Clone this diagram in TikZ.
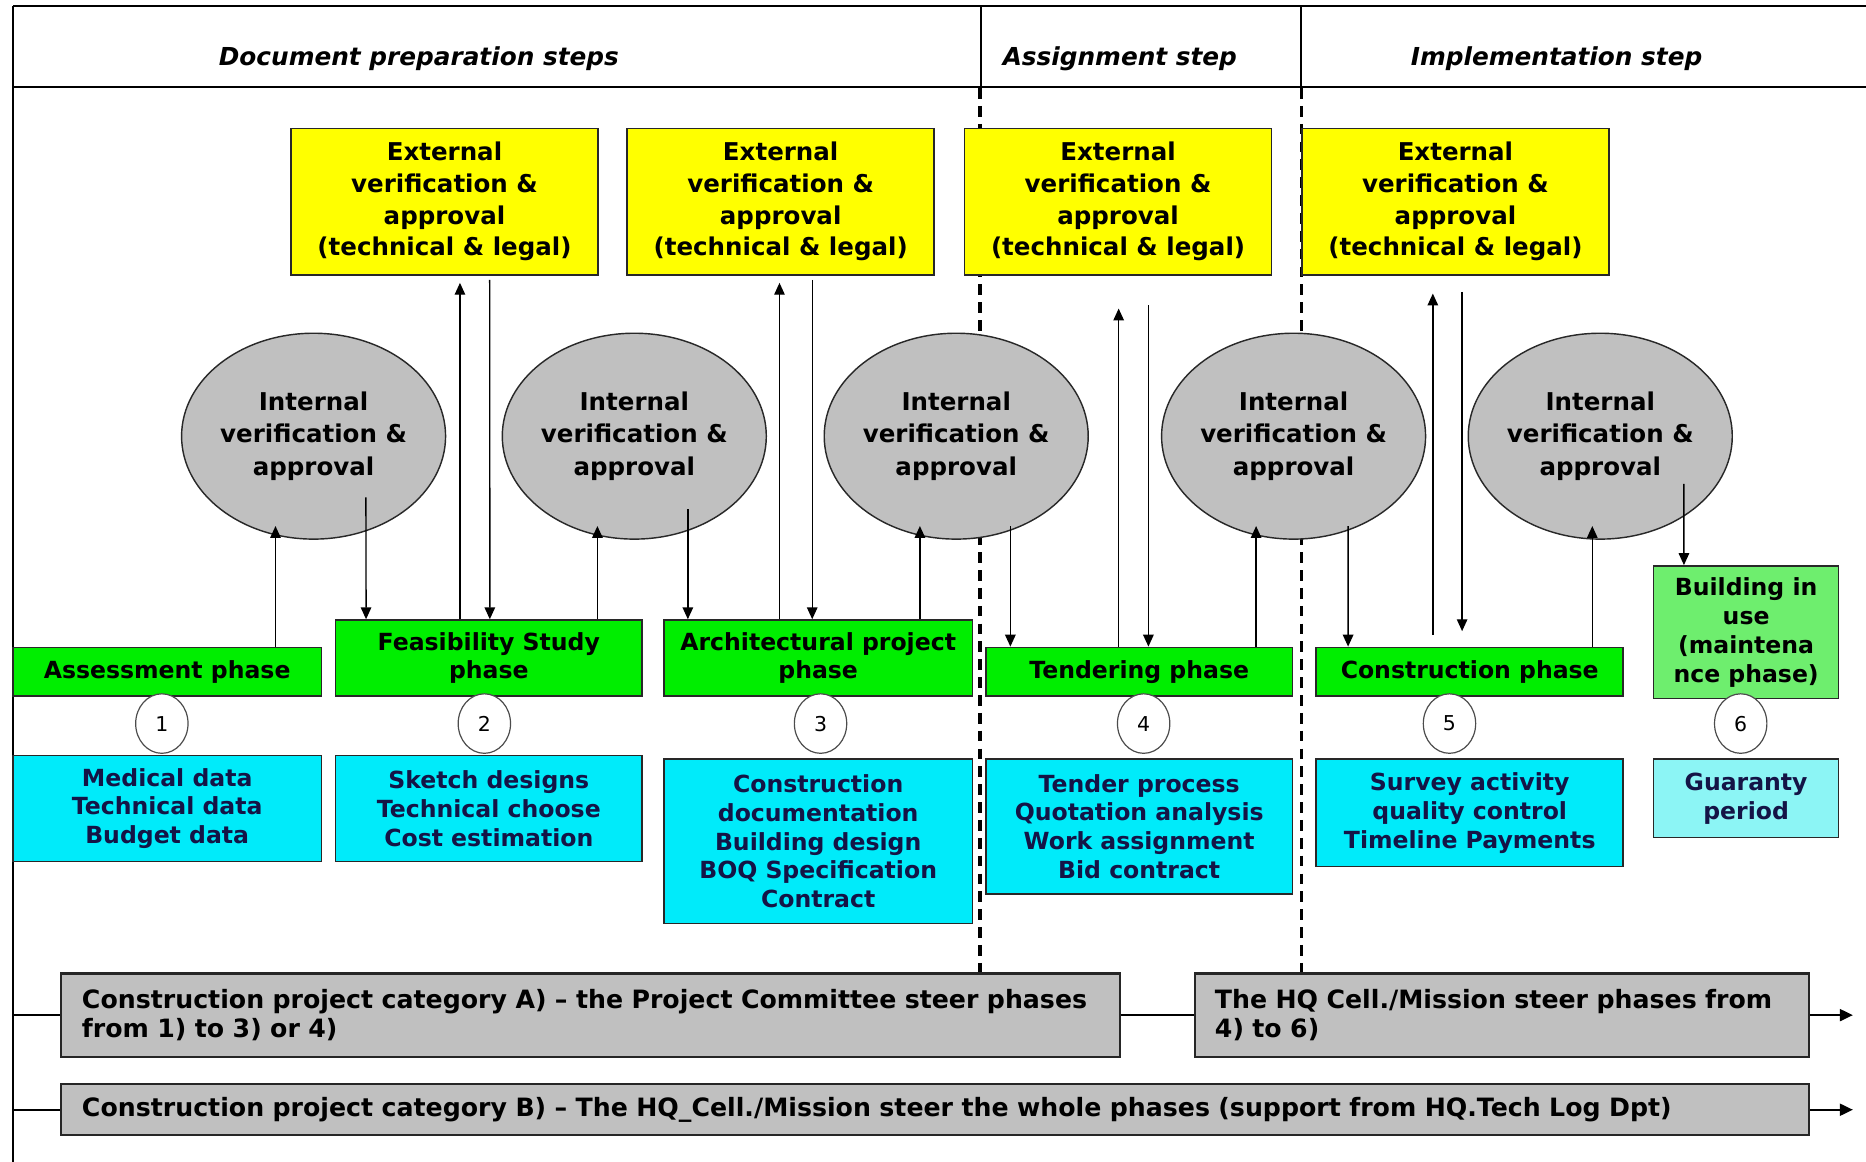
\documentclass[tikz,border=0pt]{standalone}
\usepackage{fontspec}
\setmainfont{DejaVu Sans}
\usetikzlibrary{arrows.meta,shapes.geometric,calc}
\definecolor{ybox}{RGB}{255,255,0}
\definecolor{gbox}{RGB}{0,238,0}
\definecolor{lgbox}{RGB}{110,238,110}
\definecolor{cbox}{RGB}{0,235,250}
\definecolor{lcbox}{RGB}{140,245,245}
\definecolor{gfill}{RGB}{192,192,192}
\definecolor{navytxt}{RGB}{20,20,70}
\definecolor{edge}{RGB}{40,40,40}
\begin{document}
\begin{tikzpicture}[x=0.5pt,y=-0.5pt,
  yelbox/.style={draw=edge,fill=ybox,line width=0.65pt,inner sep=0pt,minimum width=129pt,minimum height=61.5pt,align=center,font=\bfseries\fontsize{10.3}{13.3}\selectfont},
  intell/.style={ellipse,draw=edge,fill=gfill,line width=0.6pt,inner sep=0pt,minimum width=110pt,minimum height=86.5pt,align=center,font=\bfseries\fontsize{10.3}{13.5}\selectfont},
  phasebox/.style={draw=edge,fill=gbox,line width=0.65pt,inner sep=0pt,align=center,font=\bfseries\fontsize{9.9}{12}\selectfont},
  databox/.style={draw=edge,fill=cbox,line width=0.65pt,inner sep=0pt,align=center,text=navytxt,font=\bfseries\fontsize{9.9}{12.1}\selectfont},
  numell/.style={ellipse,draw=black!70,fill=white,line width=0.5pt,inner sep=0pt,minimum width=22pt,minimum height=25pt,font=\fontsize{8.6}{10}\selectfont},
  steerbox/.style={draw=black!85,fill=gfill,line width=0.9pt,inner xsep=9pt,inner ysep=0pt,align=left,anchor=west,font=\bfseries\fontsize{10.6}{12.5}\selectfont},
  headtxt/.style={font=\bfseries\itshape\fontsize{10.4}{12}\selectfont},
  arr/.style={line width=0.6pt,-{Triangle[length=5pt,width=4.4pt]}},
  flow/.style={line width=1pt,-{Triangle[length=5.5pt,width=5pt]}},
  sepline/.style={line width=1.5pt,dash pattern=on 4.5pt off 3pt},
  frameline/.style={line width=0.9pt}
]
\fill[white] (0,0) rectangle (1568,976);
\useasboundingbox (0,0) rectangle (1568,976);

% frame and header
\draw[frameline] (11,5) -- (1568,5);
\draw[frameline] (11,73) -- (1568,73);
\draw[frameline] (11,5) -- (11,976);
\draw[frameline] (824,5) -- (824,73);
\draw[frameline] (1093,5) -- (1093,73);
\node[headtxt] (h1) at (352,49) {Document preparation steps};
\node[headtxt] (h2) at (941,49) {Assignment step};
\node[headtxt] (h3) at (1308,49) {Implementation step};

% dashed separators
\draw[sepline] (823.5,74) -- (823.5,818);
\draw[sepline] (1093.5,74) -- (1093.5,818);

% external verification
\node[yelbox] (yel1) at (373.5,169.5) {External\\verification \&\\approval\\(technical \& legal)};
\node[yelbox] (yel2) at (656,169.5) {External\\verification \&\\approval\\(technical \& legal)};
\node[yelbox] (yel3) at (939.5,169.5) {External\\verification \&\\approval\\(technical \& legal)};
\node[yelbox] (yel4) at (1223,169.5) {External\\verification \&\\approval\\(technical \& legal)};

% internal verification
\node[intell] (int1) at (263.5,366.5) {Internal\\verification \&\\approval};
\node[intell] (int2) at (533,366.5) {Internal\\verification \&\\approval};
\node[intell] (int3) at (803.5,366.5) {Internal\\verification \&\\approval};
\node[intell] (int4) at (1087,366.5) {Internal\\verification \&\\approval};
\node[intell] (int5) at (1344.7,366.5) {Internal\\verification \&\\approval};

% phases
\node[phasebox,minimum width=129.5pt,minimum height=20.5pt] (assess) at (140.5,564.5) {Assessment phase};
\node[phasebox,minimum width=128.75pt,minimum height=32pt] (feas) at (410.75,553) {Feasibility Study\\phase};
\node[phasebox,minimum width=129.5pt,minimum height=32pt] (arch) at (687.5,553) {Architectural project\\phase};
\node[phasebox,minimum width=128.75pt,minimum height=20.5pt] (tend) at (957.25,564.5) {Tendering phase};
\node[phasebox,minimum width=129pt,minimum height=20.5pt] (cons) at (1235,564.5) {Construction phase};
\node[phasebox,fill=lgbox,minimum width=77.75pt,minimum height=55.75pt,font=\bfseries\fontsize{9.9}{12.2}\selectfont] (build) at (1467.25,531.25) {Building in\\use\\(maintena\\nce phase)};

% data boxes
\node[databox,minimum width=129.5pt,minimum height=44.65pt] (dat1) at (140.5,679.35) {Medical data\\Technical data\\Budget data};
\node[databox,minimum width=128.75pt,minimum height=44.65pt] (dat2) at (410.75,679.35) {Sketch designs\\Technical choose\\Cost estimation};
\node[databox,minimum width=129.5pt,minimum height=69pt] (dat3) at (687.5,707) {Construction\\documentation\\Building design\\BOQ Specification\\Contract};
\node[databox,minimum width=128.75pt,minimum height=56.5pt] (dat4) at (957.25,694.5) {Tender process\\Quotation analysis\\Work assignment\\Bid contract};
\node[databox,minimum width=129pt,minimum height=45pt] (dat5) at (1235,683) {Survey activity\\quality control\\Timeline Payments};
\node[databox,fill=lcbox,minimum width=77.75pt,minimum height=32.85pt] (dat6) at (1467.25,670.85) {Guaranty\\period};

% numbers
\node[numell] (n1) at (136,608) {1};
\node[numell] (n2) at (407,608) {2};
\node[numell] (n3) at (689.5,608) {3};
\node[numell] (n4) at (961,608) {4};
\node[numell] (n5) at (1218,608) {5};
\node[numell] (n6) at (1462.7,608) {6};

% steering boxes
\node[steerbox,text width=427pt,minimum height=35pt] (catA) at (50,853) {\mbox{Construction project category A) – the Project Committee steer phases}\\from 1) to 3) or 4)};
\node[steerbox,text width=241pt,inner xsep=8.5pt,minimum height=35pt] (hq) at (1003,853) {\mbox{The HQ Cell./Mission steer phases from}\\4) to 6)};
\node[steerbox,text width=716.5pt,minimum height=21.5pt] (catB) at (50,932.5) {\mbox{Construction project category B) – The HQ\_Cell./Mission steer the whole phases (support from HQ.Tech Log Dpt)}};

\coordinate (la) at (11,853);
\coordinate (ra) at (1557,853);
\coordinate (lb) at (11,932.5);
\coordinate (rb) at (1557,932.5);
\draw[line width=1pt] (la) -- (catA.west);
\draw[line width=1pt] (catA.east) -- (hq.west);
\draw[flow] (hq.east) -- (ra);
\draw[line width=1pt] (lb) -- (catB.west);
\draw[flow] (catB.east) -- (rb);

% arrows
\draw[arr] ($(assess.north)+(91,0)$) -- ($(int1.center)+(-32,75.5)$);
\draw[arr] ($(int1.center)+(44,51.5)$) -- ($(feas.north)+(-103.15,0)$);
\draw[arr] ($(feas.north)+(-24.25,0)$) -- ($(yel1.south)+(13,6)$);
\draw[arr] ($(yel1.south)+(38,3.6)$) -- ($(feas.north)+(0.85,0)$);
\draw[arr] ($(feas.north)+(91.25,0)$) -- ($(int2.center)+(-31,75.5)$);
\draw[arr] ($(int2.center)+(45,61.5)$) -- ($(arch.north)+(-109.5,0)$);
\draw[arr] ($(arch.north)+(-32.5,0)$) -- ($(yel2.south)+(-1,6)$);
\draw[arr] ($(yel2.south)+(26.5,3.6)$) -- ($(arch.north)+(-5,0)$);
\draw[arr] ($(arch.north)+(85.5,0)$) -- ($(int3.center)+(-30.5,75.5)$);
\draw[arr] ($(int3.center)+(45.5,75.5)$) -- ($(tend.north)+(-108.25,0)$);
\draw[arr] ($(tend.north)+(-17.25,0)$) -- ($(yel3.south)+(0.5,27.6)$);
\draw[arr] ($(yel3.south)+(25.5,25)$) -- ($(tend.north)+(7.75,0)$);
\draw[arr] ($(tend.north)+(98.25,0)$) -- ($(int4.center)+(-31.5,75.5)$);
\draw[arr] ($(int4.center)+(45.8,75.5)$) -- ($(cons.north)+(-102.2,0)$);
\draw[arr] ($(cons.north)+(-31,-10)$) -- ($(yel4.south)+(-19,15)$);
\draw[arr] ($(yel4.south)+(5.6,13.6)$) -- ($(cons.north)+(-6.4,-13)$);
\draw[arr] ($(cons.north)+(103,0)$) -- ($(int5.center)+(-6.7,75.5)$);
\draw[arr] ($(int5.center)+(70.3,40)$) -- ($(build.north)+(-52.25,0)$);
\end{tikzpicture}
\end{document}
